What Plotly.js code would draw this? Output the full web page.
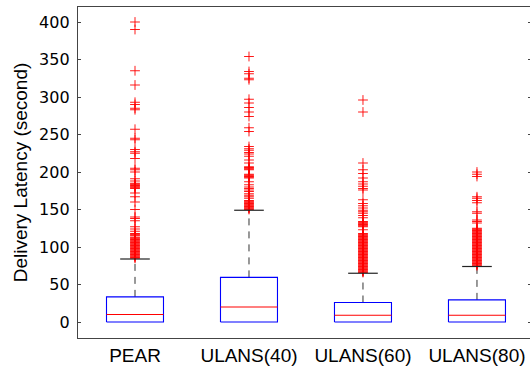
<!DOCTYPE html>
<html>
<head>
<meta charset="utf-8">
<script src="https://cdn.plot.ly/plotly-3.0.1.min.js"></script>
<style>
html,body{margin:0;padding:0;overflow:hidden;background:#fff;}
#chart{width:531px;height:366px;}
</style>
</head>
<body>
<div id="chart"></div>
<script>
var categories = ["PEAR", "ULANS(40)", "ULANS(60)", "ULANS(80)"];
var q1 = [0, 0, 0, 0];
var medians = [10, 20, 9, 9];
var q3 = [33.5, 59.5, 26, 29.5];
var upperWhisker = [84, 149, 65, 74];
var lowerWhisker = [0, 0, 0, 0];

var outliersPEAR = [400, 390, 335, 316, 293, 290, 285, 283, 257, 245, 243, 230, 227, 225, 218, 205, 203, 200,
  191, 188, 185, 184, 183, 182, 181, 180, 179, 178, 172, 167, 160, 150, 140, 138, 135, 127, 124, 121, 118, 117,
  116, 115, 113, 112, 111, 110, 109, 108, 107, 106, 105, 104, 103, 102, 101, 100, 99, 98, 97, 96, 95, 94, 93,
  92, 91, 90, 89, 88, 87, 86, 85];
var outliersULANS40 = [354, 334, 331, 325, 323, 297, 292, 286, 280, 274, 259, 254, 234, 231, 229, 226, 224,
  221, 216, 212, 207, 206, 205, 204, 203, 197, 196, 195, 194, 193, 192, 187, 183, 180, 178, 176, 174, 171, 169,
  167, 165, 162, 161, 160, 159, 158, 157, 156, 155, 154, 153, 152, 151, 150];
var outliersULANS60 = [296, 280, 212, 203, 198, 192, 187, 184, 181, 178, 176, 163, 158, 155, 152, 149, 147,
  145, 142, 139, 134, 133, 132, 131, 130, 129, 128, 127, 123, 118, 117, 116, 115, 114, 113, 112, 111, 110, 109,
  108, 107, 106, 105, 104, 103, 102, 101, 100, 99, 98, 97, 96, 95, 94, 93, 92, 91, 90, 89, 88, 87, 86, 85, 84,
  83, 82, 81, 80, 79, 78, 77, 76, 75, 74, 73, 72, 71, 70, 69, 68, 67, 66];
var outliersULANS80 = [200, 197, 194, 167, 165, 162, 159, 147, 145, 136, 134, 132, 125, 124, 123, 122, 121,
  120, 119, 118, 117, 116, 115, 114, 113, 112, 111, 110, 109, 108, 107, 106, 105, 104, 103, 102, 101, 100, 99,
  98, 97, 96, 95, 94, 93, 92, 91, 90, 89, 88, 87, 86, 85, 84, 83, 82, 81, 80, 79, 78, 77, 76, 75];
var outliers = [outliersPEAR, outliersULANS40, outliersULANS60, outliersULANS80];

var yTickVals = [0, 50, 100, 150, 200, 250, 300, 350, 400];

var boxHalf = 0.25, capHalf = 0.13;
var traces = [];
for (var i = 0; i < categories.length; i++) {
  var xc = i + 1;
  // upper whisker (dashed)
  traces.push({x: [xc, xc], y: [q3[i], upperWhisker[i]], mode: 'lines', type: 'scatter',
    line: {color: '#333', width: 1, dash: '7px,6px'}, hoverinfo: 'skip', showlegend: false});
  // lower whisker (dashed, zero length when it coincides with q1)
  traces.push({x: [xc, xc], y: [lowerWhisker[i], q1[i]], mode: 'lines', type: 'scatter',
    line: {color: '#333', width: 1, dash: '7px,6px'}, hoverinfo: 'skip', showlegend: false});
  // outliers
  traces.push({x: outliers[i].map(function(){return xc;}), y: outliers[i], mode: 'markers', type: 'scatter',
    marker: {symbol: 'cross-thin', size: 7, line: {color: 'rgba(255,0,0,0.9)', width: 1}, color: '#ff0000'},
    showlegend: false});
  // upper cap
  traces.push({x: [xc - capHalf, xc + capHalf], y: [upperWhisker[i], upperWhisker[i]], mode: 'lines', type: 'scatter',
    line: {color: '#222', width: 1.2}, hoverinfo: 'skip', showlegend: false});
  // box
  traces.push({x: [xc - boxHalf, xc + boxHalf, xc + boxHalf, xc - boxHalf, xc - boxHalf],
    y: [q1[i], q1[i], q3[i], q3[i], q1[i]], mode: 'lines', type: 'scatter',
    line: {color: '#0000ff', width: 1.1}, hoverinfo: 'skip', showlegend: false});
  // median
  traces.push({x: [xc - boxHalf, xc + boxHalf], y: [medians[i], medians[i]], mode: 'lines', type: 'scatter',
    line: {color: '#ff0000', width: 1.1}, hoverinfo: 'skip', showlegend: false});
}

var layout = {
  width: 531, height: 366,
  margin: {l: 78, r: 0, t: 7, b: 28},
  paper_bgcolor: '#fff', plot_bgcolor: '#fff',
  font: {family: 'Liberation Sans, Arial, sans-serif', color: '#000'},
  xaxis: {
    range: [0.5, 4.474], tickvals: [1, 2, 3, 4], ticktext: categories,
    showline: true, mirror: true, linecolor: '#444', linewidth: 1.2,
    showgrid: false, zeroline: false, ticks: '', tickfont: {size: 19}, ticklabelstandoff: 0
  },
  yaxis: {
    range: [-21.33, 420], tickvals: yTickVals,
    showline: true, mirror: 'ticks', linecolor: '#444', linewidth: 1.2,
    ticks: 'inside', ticklen: 3, tickcolor: '#444',
    showgrid: false, zeroline: false, ticklabelstandoff: 4,
    tickfont: {size: 16, family: 'DejaVu Sans, sans-serif'},
    title: {text: 'Delivery Latency (second)', font: {size: 19}, standoff: 6}
  }
};

Plotly.newPlot('chart', traces, layout, {displayModeBar: false, staticPlot: true});
</script>
</body>
</html>
